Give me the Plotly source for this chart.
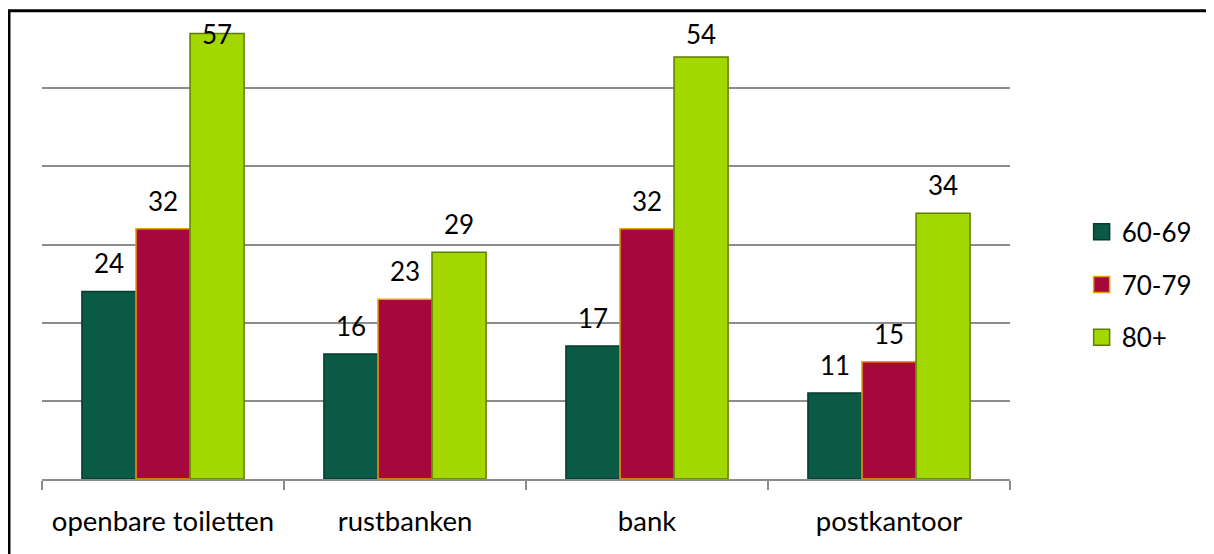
import plotly.graph_objects as go

categories = ["openbare toiletten", "rustbanken", "bank", "postkantoor"]
series_names = ["60-69", "70-79", "80+"]
values_60_69 = [24, 16, 17, 11]
values_70_79 = [32, 23, 32, 15]
values_80_plus = [57, 29, 54, 34]

colors = ["#0b5a46", "#a6083e", "#a3d700"]
line_colors = ["#063a2c", "#e8a200", "#5f7d00"]
all_values = [values_60_69, values_70_79, values_80_plus]

FONT = "Lato"
fig = go.Figure()
for i, (name, vals) in enumerate(zip(series_names, all_values)):
    fig.add_trace(go.Bar(
        x=categories, y=vals, name=name,
        marker=dict(color=colors[i], line=dict(color=line_colors[i], width=1.5)),
        legendgroup=name, showlegend=False,
    ))
# legend entries with larger square swatches
for i, name in enumerate(series_names):
    fig.add_trace(go.Scatter(
        x=[None], y=[None], mode="markers", name=name, legendgroup=name,
        marker=dict(symbol="square", size=18, color=colors[i],
                    line=dict(color=line_colors[i], width=1.5)),
    ))

# data labels placed above each bar (kept inside the plot area like the original)
bar_px = 242 * (1 - 0.33) / 3
annotations = []
for i, vals in enumerate(all_values):
    for cat, v in zip(categories, vals):
        annotations.append(dict(
            x=cat, y=min(v + 3.6, 56.9), xref="x", yref="y",
            text=str(v), showarrow=False, xshift=(i - 1) * bar_px,
            yanchor="middle", xanchor="center",
            font=dict(size=26, family=FONT, color="black"),
        ))

fig.update_layout(
    width=1214, height=554,
    margin=dict(l=34, r=212, t=2, b=83),
    paper_bgcolor="white", plot_bgcolor="white",
    barmode="group", bargap=0.33, bargroupgap=0,
    font=dict(family=FONT, size=26, color="black"),
    showlegend=True,
    legend=dict(x=1.074, y=0.414, xanchor="left", yanchor="middle",
                font=dict(size=26, family=FONT), tracegroupgap=16,
                itemwidth=30, bgcolor="rgba(0,0,0,0)"),
    xaxis=dict(showline=True, linecolor="#8c8c8c", linewidth=1.5,
               ticks="outside", tickson="boundaries", ticklen=9,
               tickcolor="#8c8c8c", tickwidth=1.5, ticklabelstandoff=17,
               tickfont=dict(size=27.5, family=FONT), showgrid=False),
    yaxis=dict(range=[0, 60], dtick=10, showgrid=True, gridcolor="#8c8c8c",
               gridwidth=1.5, showticklabels=False, zeroline=False,
               showline=False, ticks=""),
    annotations=annotations,
    shapes=[
        dict(type="line", xref="paper", yref="paper", x0=-0.0351, x1=1.25,
             y0=0.9985, y1=0.9985, line=dict(color="black", width=3)),
        dict(type="line", xref="paper", yref="paper", x0=-0.0341, x1=-0.0341,
             y0=1.0, y1=-0.2, line=dict(color="black", width=3)),
    ],
)

fig.write_html("out.html")
